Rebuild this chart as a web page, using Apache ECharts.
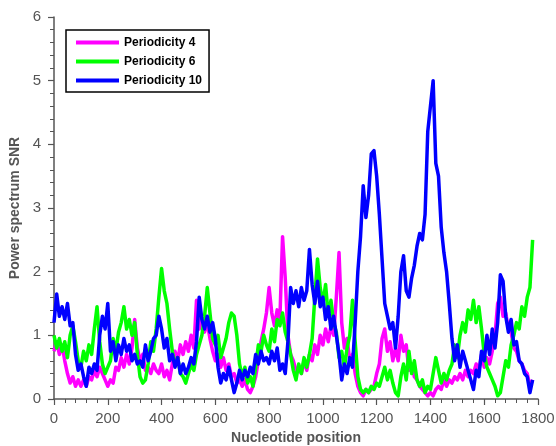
<!DOCTYPE html>
<html>
<head>
<meta charset="utf-8">
<script src="https://cdn.jsdelivr.net/npm/echarts@6/dist/echarts.min.js"></script>
<style>html,body{margin:0;padding:0;background:#fff}#c{width:556px;height:446px}</style>
</head>
<body>
<div id="c"></div>
<script>
// Nucleotide position sampling step
const step = 10;
const seriesNames = ['Periodicity 4', 'Periodicity 6', 'Periodicity 10'];
const xTicks = [0, 200, 400, 600, 800, 1000, 1200, 1400, 1600, 1800];
const yTicks = [0, 1, 2, 3, 4, 5, 6];

const period4 = [
0.75,0.9,0.7,0.85,0.6,0.4,0.25,0.35,0.2,0.3,
0.2,0.3,0.2,0.35,0.3,0.45,0.35,0.5,0.4,0.3,
0.2,0.3,0.25,0.5,0.45,0.65,0.5,0.7,0.55,0.8,
1.25,0.8,0.6,0.7,0.45,0.5,0.4,0.55,0.45,0.4,
0.55,0.35,0.45,0.3,0.55,0.75,0.6,0.85,0.7,0.9,
0.75,1.0,0.8,1.55,1.1,1.25,1.05,1.2,0.95,0.75,
0.6,0.7,0.5,0.65,0.45,0.55,0.35,0.4,0.25,0.3,
0.2,0.3,0.15,0.1,0.2,0.35,0.6,0.9,1.1,1.35,
1.75,1.35,1.15,1.4,1.25,2.55,1.9,1.0,0.7,0.6,
0.45,0.5,0.4,0.6,0.45,0.7,0.6,0.85,0.7,1.0,
0.85,1.1,0.9,1.15,1.0,1.6,2.3,1.2,0.8,0.95,
0.6,0.7,0.4,0.2,0.1,0.05,0.15,0.1,0.15,0.2,
0.4,0.55,0.95,1.1,0.75,0.9,0.6,0.8,0.6,1.0,
0.75,0.85,0.45,0.55,0.35,0.3,0.2,0.15,0.1,0.05,
0.1,0.05,0.15,0.2,0.15,0.3,0.2,0.3,0.25,0.35,
0.3,0.4,0.3,0.45,0.35,0.45,0.4,0.55,0.45,0.7,
0.5,0.65,0.55,0.75,1.0,1.5,1.6,1.3,1.35,1.1,
1.05,0.8,0.75,0.6,0.55,0.45,0.4,0.2,0.3
];

const period6 = [
1.0,0.8,0.95,0.75,0.9,0.65,1.0,1.15,0.9,0.6,
0.5,0.75,0.6,0.85,0.7,1.1,1.45,0.9,0.55,0.4,
0.5,0.6,0.95,0.75,1.05,1.2,1.45,1.1,1.25,1.0,
1.2,0.7,0.35,0.25,0.3,0.55,0.9,0.75,1.1,1.6,
2.05,1.7,1.5,1.1,0.75,0.55,0.65,0.4,0.35,0.25,
0.4,0.55,0.45,0.7,0.85,1.0,1.3,1.75,1.35,0.95,
0.85,1.0,0.65,0.8,0.95,1.2,1.35,1.3,1.0,0.55,
0.35,0.5,0.25,0.35,0.2,0.5,0.85,0.75,1.0,0.85,
0.75,1.1,0.9,1.25,1.15,1.35,1.05,0.9,0.7,0.45,
0.3,0.55,0.4,0.65,0.5,0.7,0.95,1.6,2.2,1.75,
1.5,1.8,1.3,1.55,1.2,1.05,0.65,0.75,0.5,0.8,
1.0,1.55,0.9,0.35,0.15,0.1,0.15,0.1,0.2,0.15,
0.25,0.2,0.35,0.5,0.3,0.45,0.25,0.1,0.05,0.35,
0.55,0.3,0.75,0.4,0.6,0.3,0.2,0.3,0.1,0.2,
0.15,0.4,0.65,0.45,0.25,0.4,0.3,0.45,0.55,0.85,
0.65,1.0,1.2,1.05,1.4,1.25,1.55,1.2,1.45,1.1,
0.7,0.5,0.4,0.3,0.2,0.05,0.1,0.35,0.6,0.5,
0.85,1.0,1.2,1.1,1.45,1.3,1.6,1.75,2.5
];

const period10 = [
1.2,1.65,1.3,1.45,1.25,1.5,1.15,1.2,0.7,0.45,
0.55,0.35,0.2,0.5,0.4,0.55,0.45,1.0,1.3,1.1,
1.5,0.75,0.9,0.6,0.85,0.7,0.95,0.75,0.85,0.6,
0.7,0.55,0.6,0.5,0.85,0.6,0.75,0.95,1.0,1.3,
1.1,0.8,0.95,0.6,0.7,0.5,0.65,0.4,0.55,0.4,
0.5,0.65,0.55,0.9,1.6,1.25,1.1,1.3,1.05,1.2,
0.95,0.5,0.25,0.4,0.3,0.5,0.3,0.1,0.25,0.45,
0.3,0.45,0.35,0.5,0.4,0.7,0.55,0.75,0.6,0.65,
0.55,0.75,0.6,0.8,0.45,0.55,0.4,0.9,1.75,1.5,
1.7,1.45,1.75,1.55,1.7,2.35,1.8,1.5,1.85,1.45,
1.6,1.25,1.45,1.1,1.3,1.0,0.7,0.3,0.55,0.4,
0.65,0.5,1.2,2.0,2.55,3.35,2.85,3.2,3.85,3.9,
3.5,2.9,2.2,1.5,1.3,1.1,1.2,0.8,1.3,2.0,
2.25,1.7,1.6,1.9,2.1,2.4,2.6,2.5,2.9,4.2,
4.6,5.0,3.7,3.5,2.7,2.3,2.0,1.5,0.95,0.6,
0.85,0.5,0.75,0.6,0.45,0.3,0.15,0.45,0.35,0.75,
0.6,1.0,0.7,1.1,0.8,1.2,1.95,1.85,1.3,1.05,
1.25,0.85,0.9,0.6,0.55,0.4,0.35,0.1,0.3
];

function toPairs(arr) { return arr.map((v, i) => [i * step, v]); }

const colors = ['#ff00ff', '#00ff00', '#0000ff'];
const values = [period4, period6, period10];
const font = 'Liberation Sans, Arial, sans-serif';

const chart = echarts.init(document.getElementById('c'), null, {renderer: 'canvas'});
chart.setOption({
  animation: false,
  backgroundColor: '#fff',
  grid: {left: 54, right: 18, top: 17, bottom: 47, containLabel: false, outerBoundsMode: 'none'},
  legend: {
    orient: 'vertical', left: 66, top: 30,
    padding: [6, 7, 5, 10], itemGap: 6,
    borderColor: '#000', borderWidth: 1.5, borderRadius: 0,
    backgroundColor: '#fff',
    icon: 'rect', itemWidth: 43, itemHeight: 4,
    textStyle: {fontFamily: font, fontWeight: 'bold', fontSize: 12, color: '#000', lineHeight: 13},
    data: seriesNames
  },
  xAxis: {
    type: 'value', min: xTicks[0], max: xTicks[xTicks.length - 1], interval: 200,
    name: 'Nucleotide position', nameLocation: 'middle', nameGap: 32,
    nameTextStyle: {fontFamily: font, fontWeight: 'bold', fontSize: 14, color: '#555'},
    axisLine: {lineStyle: {color: '#555', width: 1.5}},
    axisTick: {show: true, inside: false, length: 6, lineStyle: {color: '#555', width: 1.2}},
    minorTick: {show: true, splitNumber: 5, length: 4, lineStyle: {color: '#555', width: 1}},
    axisLabel: {margin: 12, fontFamily: font, fontSize: 15, color: '#555', formatter: v => String(v)},
    splitLine: {show: false}
  },
  yAxis: {
    type: 'value', min: yTicks[0], max: yTicks[yTicks.length - 1], interval: 1,
    name: 'Power spectrum SNR', nameLocation: 'middle', nameGap: 31, nameRotate: 90,
    nameTextStyle: {fontFamily: font, fontWeight: 'bold', fontSize: 14, color: '#555'},
    axisLine: {show: true, lineStyle: {color: '#555', width: 1.5}},
    axisTick: {show: true, inside: false, length: 6, lineStyle: {color: '#555', width: 1.2}},
    minorTick: {show: true, splitNumber: 5, length: 4, lineStyle: {color: '#555', width: 1}},
    axisLabel: {margin: 13, fontFamily: font, fontSize: 15, color: '#555', formatter: v => String(v)},
    splitLine: {show: false}
  },
  series: seriesNames.map((n, k) => ({
    name: n, type: 'line', data: toPairs(values[k]),
    showSymbol: false, symbol: 'none',
    lineStyle: {color: colors[k], width: 3.5, join: 'round'},
    itemStyle: {color: colors[k]}
  }))
});
</script>
</body>
</html>
